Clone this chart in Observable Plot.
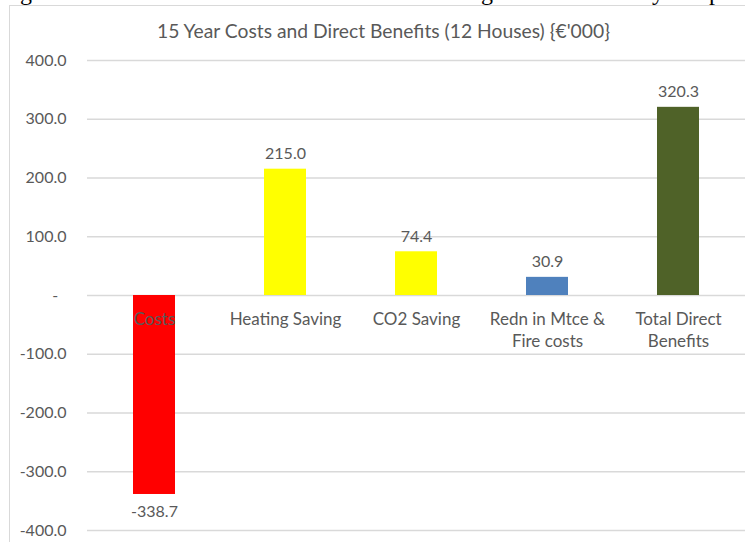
<!DOCTYPE html>
<html><head><meta charset="utf-8">
<script src="https://cdn.jsdelivr.net/npm/d3@7"></script>
<script src="https://cdn.jsdelivr.net/npm/@observablehq/plot@0.6"></script>
<style>
html,body{margin:0;padding:0;background:#fff;}
#wrap{position:relative;width:745px;height:542px;overflow:hidden;}
#frame{position:absolute;left:9px;top:5px;width:760px;height:560px;border-left:1px solid #d9d9d9;border-top:1px solid #d9d9d9;}
#title{position:absolute;left:0;width:767px;top:19px;text-align:center;font-family:Lato;font-size:19.3px;line-height:24px;color:#595959;}
#chart{position:absolute;left:0;top:0;}
#doc{position:absolute;left:0;top:0;width:745px;height:5px;overflow:hidden;}
#doc span{position:absolute;top:-20px;font-family:"Liberation Serif";font-size:24px;line-height:24px;color:#000;}
</style></head>
<body><div id="wrap">
<div id="doc"><span style="left:20px">g</span><span style="left:481px">g</span><span style="left:652px">y</span><span style="left:709px">p</span></div>
<div id="frame"></div>
<div id="title">15 Year Costs and Direct Benefits (12 Houses) {€'000}</div>
<div id="chart"></div>
</div>
<script>
const categories = ["Costs", "Heating Saving", "CO2 Saving", "Redn in Mtce &\nFire costs", "Total Direct\nBenefits"];
const values = [-338.7, 215.0, 74.4, 30.9, 320.3];
const colors = ["#FF0000", "#FFFF00", "#FFFF00", "#4F81BD", "#4F6228"];
const yTicks = [-400, -300, -200, -100, 0, 100, 200, 300, 400];

const data = categories.map((c, i) => ({category: c, value: values[i], color: colors[i]}));

const chart = Plot.plot({
  width: 745, height: 542,
  marginTop: 60, marginBottom: 12, marginLeft: 87, marginRight: 0,
  style: {background: "transparent", fontFamily: "Lato", fontSize: "16px", color: "#595959"},
  x: {domain: categories, paddingInner: 0.68, paddingOuter: 0.34, axis: null},
  y: {domain: [-400, 400], axis: null},
  marks: [
    Plot.gridY(yTicks, {stroke: "#d9d9d9", strokeOpacity: 1, strokeWidth: 1.3}),
    Plot.barY(data, {x: "category", y: "value", fill: "color"}),
    Plot.axisY(yTicks, {tickSize: 0, tickPadding: 21, fontSize: 16, fill: "#595959", label: null,
      tickFormat: d => d === 0 ? "-\u00A0\u00A0" : d.toFixed(1)}),
    Plot.text(data, {x: "category", y: 0, text: "category", lineAnchor: "top", dy: 14,
      lineHeight: 1.3, fontSize: 17, fill: "#595959"}),
    Plot.text(data.filter(d => d.value >= 0), {x: "category", y: "value", text: d => d.value.toFixed(1),
      dy: -15, fontSize: 16, fill: "#595959"}),
    Plot.text(data.filter(d => d.value < 0), {x: "category", y: "value", text: d => d.value.toFixed(1),
      dy: 17, fontSize: 16, fill: "#595959"})
  ]
});
document.getElementById("chart").appendChild(chart);
</script>
</body></html>
